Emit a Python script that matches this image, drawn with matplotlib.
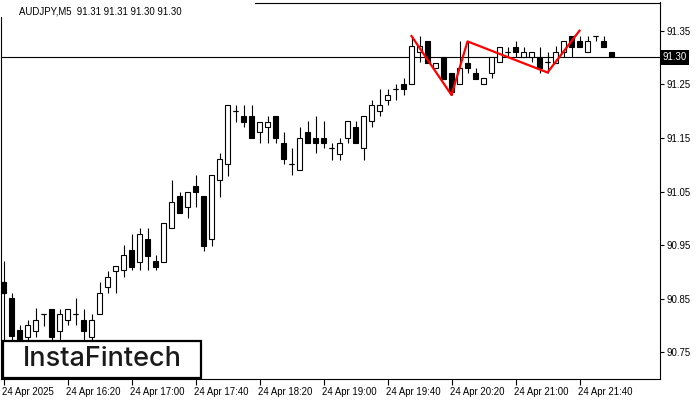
import numpy as np
import matplotlib
matplotlib.use('Agg')
import matplotlib.pyplot as plt
import matplotlib.transforms as mtransforms
from matplotlib.patches import Rectangle

# ── data (AUDJPY M5, one bar every 5 min, first bar 15:40) ──────────
opens = [90.881, 90.851, 90.792, 90.779, 90.790, 90.821, 90.830, 90.790, 90.810, 90.821,
         90.810, 90.779, 90.821, 90.871, 90.901, 90.903, 90.941, 90.918, 90.961, 90.920,
         90.918, 90.982, 91.041, 91.021, 91.060, 91.041, 90.961, 91.071, 91.101, 91.200,
         91.191, 91.191, 91.161, 91.170, 91.191, 91.140, 91.101, 91.090, 91.161, 91.150,
         91.150, 91.131, 91.120, 91.150, 91.170, 91.131, 91.182, 91.200, 91.221, 91.241,
         91.251, 91.251, 91.310, 91.331, 91.280, 91.301, 91.271, 91.251, 91.290, 91.271,
         91.251, 91.271, 91.292, 91.310, 91.320, 91.301, 91.301, 91.301, 91.292, 91.290,
         91.310, 91.340, 91.331, 91.310, 91.340, 91.331, 91.310]

highs = [90.920, 90.860, 90.801, 90.810, 90.832, 90.821, 90.830, 90.830, 90.830, 90.851,
         90.830, 90.821, 90.881, 90.901, 90.911, 90.950, 90.971, 90.982, 90.982, 90.932,
         90.991, 91.071, 91.050, 91.050, 91.081, 91.041, 91.081, 91.122, 91.211, 91.211,
         91.211, 91.211, 91.180, 91.191, 91.191, 91.161, 91.131, 91.170, 91.182, 91.191,
         91.182, 91.140, 91.150, 91.182, 91.182, 91.191, 91.221, 91.241, 91.241, 91.251,
         91.262, 91.340, 91.340, 91.331, 91.290, 91.301, 91.271, 91.331, 91.331, 91.280,
         91.262, 91.301, 91.320, 91.320, 91.331, 91.320, 91.310, 91.320, 91.310, 91.321,
         91.331, 91.340, 91.340, 91.340, 91.340, 91.340, 91.310]

lows = [90.760, 90.760, 90.760, 90.765, 90.779, 90.799, 90.765, 90.773, 90.801, 90.801,
        90.773, 90.765, 90.821, 90.860, 90.860, 90.890, 90.903, 90.903, 90.903, 90.903,
        90.918, 90.982, 91.010, 91.000, 91.021, 90.939, 90.948, 91.039, 91.079, 91.180,
        91.170, 91.150, 91.140, 91.140, 91.140, 91.101, 91.081, 91.090, 91.140, 91.122,
        91.131, 91.109, 91.109, 91.140, 91.140, 91.109, 91.170, 91.191, 91.211, 91.221,
        91.230, 91.251, 91.292, 91.290, 91.280, 91.260, 91.230, 91.251, 91.271, 91.260,
        91.251, 91.262, 91.292, 91.301, 91.301, 91.301, 91.292, 91.271, 91.271, 91.290,
        91.301, 91.301, 91.320, 91.310, 91.331, 91.320, 91.300]

closes = [90.860, 90.780, 90.773, 90.801, 90.810, 90.821, 90.779, 90.821, 90.830, 90.821,
          90.790, 90.810, 90.860, 90.890, 90.911, 90.932, 90.909, 90.971, 90.930, 90.909,
          90.991, 91.030, 91.010, 91.050, 91.049, 90.948, 91.081, 91.110, 91.211, 91.200,
          91.180, 91.150, 91.180, 91.180, 91.150, 91.110, 91.101, 91.150, 91.140, 91.140,
          91.140, 91.131, 91.140, 91.182, 91.140, 91.191, 91.211, 91.211, 91.230, 91.241,
          91.241, 91.321, 91.321, 91.290, 91.290, 91.260, 91.235, 91.280, 91.280, 91.260,
          91.262, 91.301, 91.320, 91.310, 91.310, 91.310, 91.310, 91.280, 91.292, 91.310,
          91.331, 91.320, 91.320, 91.331, 91.340, 91.320, 91.300]

# red pattern (bar index, price)
pattern_idx = [51, 56, 58, 68, 72]
pattern_px  = [91.340, 91.230, 91.330, 91.272, 91.350]

last_price = 91.30
price_ticks = [90.75, 90.85, 90.95, 91.05, 91.15, 91.25, 91.35]
time_idx    = [0, 8, 16, 24, 32, 40, 48, 56, 64, 72]
time_labels = ['24 Apr 2025', '24 Apr 16:20', '24 Apr 17:00', '24 Apr 17:40',
               '24 Apr 18:20', '24 Apr 19:00', '24 Apr 19:40', '24 Apr 20:20',
               '24 Apr 21:00', '24 Apr 21:40']
title = 'AUDJPY,M5  91.31 91.31 91.30 91.30'

FONT = 'Liberation Sans'
FS = 6.9

# ── figure ──────────────────────────────────────────────────────
W, H = 700, 400
fig = plt.figure(figsize=(7, 4), dpi=100)
ax = fig.add_axes([1 / W, 21 / H, 659 / W, 376.5 / H])

o = np.array(opens)
c = np.array(closes)
x = np.arange(len(o))
up = c >= o

ax.vlines(x, lows, highs, color='black', linewidth=0.8, zorder=2)
body_lo = np.minimum(o, c)
body_h = np.abs(c - o)
ax.bar(x[up], body_h[up], bottom=body_lo[up], width=0.58,
       facecolor='white', edgecolor='black', linewidth=0.8, zorder=3)
ax.bar(x[~up], body_h[~up], bottom=body_lo[~up], width=0.58,
       facecolor='black', edgecolor='black', linewidth=0.8, zorder=3)
doji = body_h < 1e-9
ax.hlines(o[doji], x[doji] - 0.36, x[doji] + 0.36, color='black', linewidth=0.8, zorder=3)

ax.axhline(last_price, color='black', linewidth=0.8, zorder=1)
ax.plot(pattern_idx, pattern_px, color='#ff0000', linewidth=1.6, zorder=4)

ax.set_xlim(-0.3125, 82.0625)
ax.set_ylim(90.7002, 91.4026)

# axes style
for s in ax.spines.values():
    s.set_linewidth(0.8)
ax.yaxis.tick_right()
ax.set_yticks(price_ticks)
ax.set_yticklabels([f'{p:.2f}' for p in price_ticks])
ax.set_xticks(time_idx)
ax.set_xticklabels(time_labels, ha='left')
ax.tick_params(axis='y', length=3, width=0.8, pad=2, labelsize=FS)
ax.tick_params(axis='x', length=4, width=0.8, pad=2, labelsize=FS)
for lab in ax.get_xticklabels() + ax.get_yticklabels():
    lab.set_fontfamily(FONT)
# shift x labels so they start at the tick
offset = mtransforms.ScaledTranslation(-1 / 72, 0, fig.dpi_scale_trans)
for lab in ax.get_xticklabels():
    lab.set_transform(lab.get_transform() + offset)

# current price tag
tr = mtransforms.blended_transform_factory(ax.transAxes, ax.transData)
ax.text(1.004, last_price, f'{last_price:.2f}', transform=tr, ha='left', va='center',
        color='white', fontsize=FS, fontfamily=FONT, clip_on=False,
        bbox=dict(facecolor='black', edgecolor='none', boxstyle='square,pad=0.25'))

# title (white background hides the frame top-left)
fig.patches.append(Rectangle((0, 1 - 17 / H), 255 / W, 17 / H, transform=fig.transFigure,
                             facecolor='white', edgecolor='none', zorder=5))
fig.text(19 / W, 1 - 11 / H, title, ha='left', va='center', fontsize=FS,
         fontfamily=FONT, zorder=6)

# logo box
fig.patches.append(Rectangle((3 / W, 22 / H), 198 / W, 37 / H, transform=fig.transFigure,
                             facecolor='white', edgecolor='black', linewidth=1.6, zorder=5))
fig.text(102 / W, 40.5 / H, 'InstaFintech', ha='center', va='center', fontsize=19.5,
         fontfamily='Inter', fontweight='medium', color='#1a1a1a', zorder=6)

fig.savefig('out.png', dpi=100)
